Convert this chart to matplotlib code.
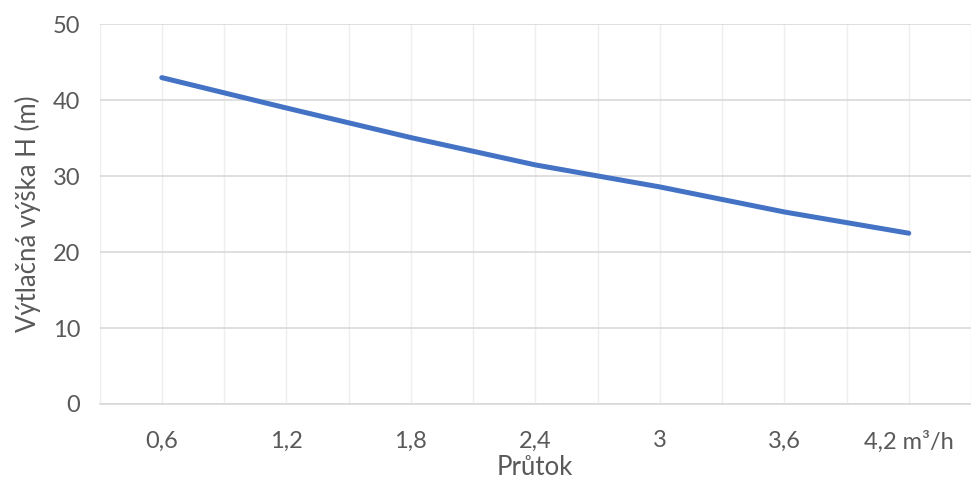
import matplotlib.pyplot as plt
import numpy as np

plt.rcParams["font.family"] = ["Lato", "DejaVu Sans"]

flow = [0.6, 1.2, 1.8, 2.4, 3.0, 3.6, 4.2]
head = [43.0, 39.0, 35.1, 31.5, 28.6, 25.3, 22.5]
xtick_labels = ["0,6", "1,2", "1,8", "2,4", "3", "3,6", "4,2 m³/h"]
yticks = [0, 10, 20, 30, 40, 50]

TEXT = "#595959"

fig = plt.figure(figsize=(9.71, 4.79), dpi=100)
ax = fig.add_axes([0.1025, 0.1566, 0.8975, 0.7923])

ax.plot(flow, head, color="#4472C4", lw=3.6, solid_capstyle="round",
        solid_joinstyle="round", zorder=3)

ax.set_xlim(0.3, 4.483)
ax.set_ylim(0, 50)

ax.set_xticks(flow)
ax.set_xticklabels(xtick_labels)
ax.set_xticks(np.arange(0.3, 4.5, 0.6), minor=True)
ax.set_yticks(yticks)

ax.grid(axis="y", which="major", color="#d9d9d9", lw=1.2, zorder=0)
ax.grid(axis="x", which="both", color="#eeeeee", lw=1.0, zorder=0)

for s in ["top", "right", "left"]:
    ax.spines[s].set_visible(False)
ax.spines["bottom"].set_color("#d9d9d9")
ax.spines["bottom"].set_linewidth(1.2)

ax.tick_params(axis="both", which="both", length=0, labelsize=17,
               labelcolor=TEXT)
ax.tick_params(axis="x", pad=19)
ax.tick_params(axis="y", pad=14)

ax.set_xlabel("Průtok", fontsize=18.5, color=TEXT, labelpad=2)
ax.set_ylabel("Výtlačná výška H (m)", fontsize=18.5, color=TEXT, labelpad=8)

fig.savefig("out.png", dpi=100)
